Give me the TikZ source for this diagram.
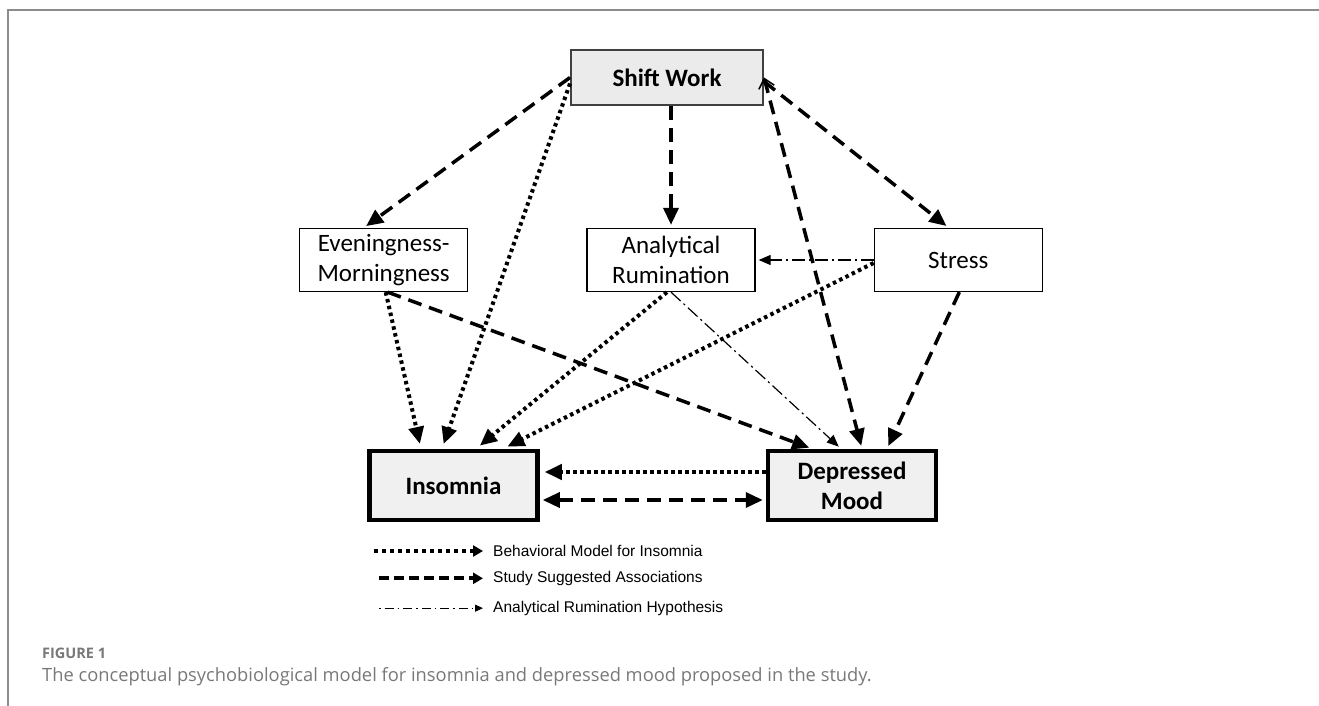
\documentclass[tikz,border=0pt]{standalone}
\usepackage{fontspec}
\setmainfont{Carlito}
\newfontfamily\legendfont{Liberation Sans}
\newfontfamily\captionfont{Open Sans}
\usepackage{tikz}
\usetikzlibrary{arrows.meta,positioning}
\usepackage{xcolor}
\definecolor{shiftbg}    {RGB}{235,235,235}
\definecolor{shiftedge}  {RGB}{ 64, 64, 64}
\definecolor{outcomebg}  {RGB}{240,240,240}
\definecolor{framegrey}  {RGB}{140,140,140}
\definecolor{captiongrey}{RGB}{120,120,120}

\begin{document}
\begin{tikzpicture}[
    x=1pt, y=-1pt,
    >={Triangle[length=17pt,width=15pt]},
    box/.style={draw, rectangle, align=center, inner sep=2pt, font=\fontsize{25}{30}\selectfont},
    factor/.style={box, fill=white, line width=1.3pt, minimum width=168pt, minimum height=63pt},
    source/.style={box, fill=shiftbg, draw=shiftedge, line width=2pt, minimum width=192pt, minimum height=55pt, font=\fontsize{25}{30}\selectfont\bfseries},
    outcome/.style={box, fill=outcomebg, line width=4.5pt, minimum width=168pt, minimum height=69pt, font=\fontsize{25}{30}\selectfont\bfseries},
    dasharrow/.style={->, line width=3.5pt, dash pattern=on 14pt off 8pt, shorten >=3pt},
    dotarrow/.style={->, line width=4pt, dash pattern=on 3.5pt off 3.5pt, shorten >=5pt},
    dashdotarrow/.style={-{Triangle[length=12pt,width=10pt]}, line width=1.2pt, dash pattern=on 13pt off 4pt on 2pt off 4pt, shorten >=3pt},
    legtext/.style={anchor=west, inner sep=4pt, font=\legendfont\fontsize{15.5}{18}\selectfont},
    legdot/.style={-{Triangle[length=10pt,width=11pt]}, line width=3.5pt, dash pattern=on 4pt off 4pt, shorten >=6pt},
    legdash/.style={-{Triangle[length=10pt,width=11pt]}, line width=4pt, dash pattern=on 10pt off 5pt, shorten >=6pt},
    legdashdot/.style={-{Triangle[length=8pt,width=7pt]}, line width=1pt, dash pattern=on 1.5pt off 4pt on 9pt off 4pt, shorten >=6pt}
]
    \useasboundingbox (0,0) rectangle (1319,706);
    % --- frame ---
    \draw[framegrey, line width=1.5pt] (8,706) -- (8,10) -- (1319,10);

    % --- factors ---
    \node[source] (shift) at (667,77.5) {Shift Work};
    \node[factor] (rumination) at (671,260) {Analytical\\Rumination};
    \node[factor] (chrono) [left=118pt of rumination] {Eveningness-\\Morningness};
    \node[factor] (stress) [right=118pt of rumination] {Stress};

    % --- outcomes ---
    \node[outcome] (insomnia) at (453.5,485.5) {Insomnia};
    \node[outcome] (mood) [right=226pt of insomnia] {Depressed\\Mood};

    % --- Study Suggested Associations (dashed) ---
    \draw[dasharrow] (shift.west) -- ([xshift=-20pt]chrono.north);
    \draw[dasharrow] (shift.south -| rumination.north) -- (rumination.north);
    \draw[dasharrow] ([yshift=-4pt]shift.east) -- ([xshift=-9.5pt]stress.north);
    \draw[dasharrow, {Straight Barb[length=9pt,width=16pt,line width=1.5pt]}->] (shift.east) -- ([xshift=10pt]mood.north);
    \draw[dasharrow] ([xshift=1pt]stress.south) -- ([xshift=35pt]mood.north);
    \draw[dasharrow] ([xshift=4pt]chrono.south) -- ([xshift=-40pt]mood.north);
    \draw[dasharrow, <->, shorten <=3pt] ([yshift=-14.5pt]insomnia.east) -- ([yshift=-14.5pt]mood.west);

    % --- Behavioral Model for Insomnia (dotted) ---
    \draw[dotarrow] ([yshift=-6pt]shift.west) -- ([xshift=-11.5pt]insomnia.north);
    \draw[dotarrow] ([xshift=2pt]chrono.south) -- ([xshift=-32.5pt]insomnia.north);
    \draw[dotarrow] ([xshift=-4pt]rumination.south) -- ([xshift=22.5pt]insomnia.north);
    \draw[dotarrow] ([yshift=-3pt]stress.west) -- ([xshift=49.5pt]insomnia.north);
    \draw[dotarrow] ([yshift=13.5pt]mood.west) -- ([yshift=13.5pt]insomnia.east);

    % --- Analytical Rumination Hypothesis (dash-dot) ---
    \draw[dashdotarrow] (stress.west) -- (rumination.east);
    \draw[dashdotarrow] (rumination.south) -- ([xshift=-11pt]mood.north);

    % --- legend ---
    \node[legtext] (legbehav) at (489,551) {Behavioral Model for Insomnia};
    \node[legtext] (legstudy) [below=6pt of legbehav.south west, anchor=north west] {Study Suggested Associations};
    \node[legtext] (leghypo) [below=7pt of legstudy.south west, anchor=north west] {Analytical Rumination Hypothesis};
    \coordinate (legbehavS) at (374,551);
    \coordinate (legstudyS) at (379,0 |- legstudy.west);
    \coordinate (leghypoS) at (379,0 |- leghypo.west);
    \draw[legdot] (legbehavS) -- (legbehav.west);
    \draw[legdash] (legstudyS |- legstudy.west) -- (legstudy.west);
    \draw[legdashdot] (leghypoS |- leghypo.west) -- (leghypo.west);

    % --- caption ---
    \node[anchor=west, inner sep=0pt, text=captiongrey, font=\captionfont\bfseries\fontsize{14.5}{17}\selectfont] (figlabel) at (42,653) {FIGURE 1};
    \node[anchor=west, inner sep=0pt, text=captiongrey, font=\captionfont\fontsize{18.3}{22}\selectfont] (figcaption) at (42,677) {The conceptual psychobiological model for insomnia and depressed mood proposed in the study.};
\end{tikzpicture}
\end{document}
